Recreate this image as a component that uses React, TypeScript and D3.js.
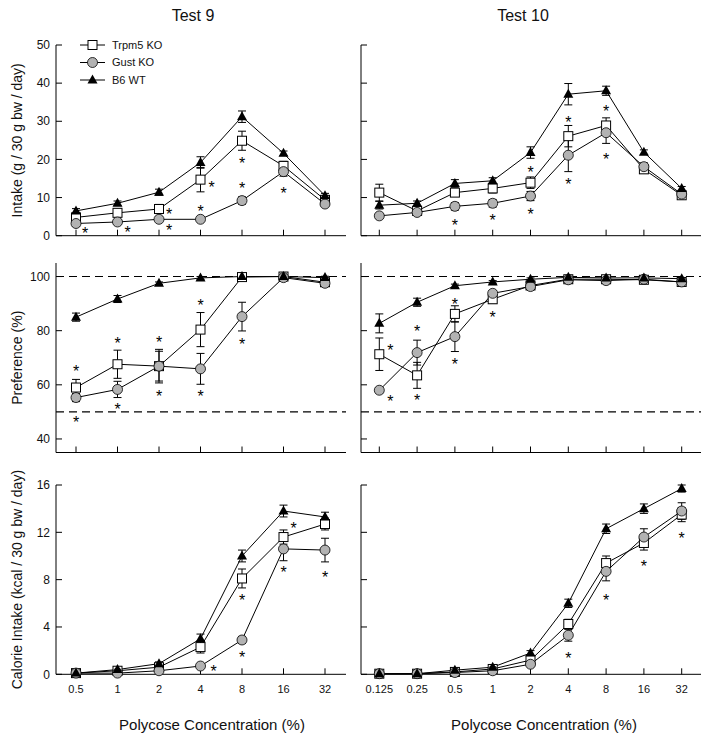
import * as d3 from 'd3'

const W = 711
const H = 744
const FONT = '"Liberation Sans", Arial, sans-serif'

// concentrations (%)
const CONC_9 = [0.5, 1, 2, 4, 8, 16, 32]
const CONC_10 = [0.125, 0.25, 0.5, 1, 2, 4, 8, 16, 32]

const SERIES_NAMES = ['Trpm5 KO', 'Gust KO', 'B6 WT']

// Test 9 intake (g / 30 g bw / day)
const INTAKE9_TRPM5 = [4.8, 6.0, 7.0, 14.7, 24.9, 18.3, 9.4]
const INTAKE9_TRPM5_ERR = [0.8, 1.0, 1.2, 3.2, 2.5, 1.2, 0.8]
const INTAKE9_GUST = [3.2, 3.6, 4.3, 4.3, 9.2, 16.8, 8.3]
const INTAKE9_GUST_ERR = [0.8, 0.6, 0.6, 0.5, 1.0, 1.2, 0.6]
const INTAKE9_B6 = [6.5, 8.5, 11.4, 19.2, 31.2, 21.6, 10.5]
const INTAKE9_B6_ERR = [0.6, 0.6, 0.8, 1.5, 1.5, 0.6, 0.6]

// Test 10 intake
const INTAKE10_TRPM5 = [11.3, 6.5, 11.3, 12.4, 13.9, 26.1, 28.9, 17.4, 10.6]
const INTAKE10_TRPM5_ERR = [2.2, 0.8, 1.0, 1.2, 1.5, 2.8, 2.0, 1.0, 0.6]
const INTAKE10_GUST = [5.2, 6.1, 7.7, 8.5, 10.4, 21.1, 27.0, 18.1, 10.9]
const INTAKE10_GUST_ERR = [0.6, 0.8, 1.0, 1.0, 1.2, 4.3, 2.8, 1.0, 0.5]
const INTAKE10_B6 = [8.0, 8.5, 13.7, 14.4, 21.8, 37.1, 38.0, 21.9, 12.4]
const INTAKE10_B6_ERR = [1.0, 0.6, 1.0, 0.8, 1.5, 2.8, 1.2, 0.6, 0.5]

// Test 9 preference (%)
const PREF9_TRPM5 = [59.0, 67.6, 66.9, 80.4, 99.8, 100, 97.9]
const PREF9_TRPM5_ERR = [3.0, 5.2, 6.2, 6.3, 0.5, 0.5, 1.0]
const PREF9_GUST = [55.3, 58.3, 66.9, 65.9, 85.2, 99.6, 97.5]
const PREF9_GUST_ERR = [1.5, 3.0, 5.5, 5.7, 5.3, 0.5, 1.0]
const PREF9_B6 = [85.0, 91.7, 97.5, 99.5, 100, 100, 99.6]
const PREF9_B6_ERR = [1.5, 1.3, 0.5, 0.5, 0.3, 0.3, 0.5]

// Test 10 preference
const PREF10_TRPM5 = [71.3, 63.5, 86.2, 91.6, 96.7, 99.0, 99.0, 98.8, 98.0]
const PREF10_TRPM5_ERR = [6.0, 4.8, 3.0, 1.5, 0.8, 0.5, 0.5, 0.5, 0.6]
const PREF10_GUST = [58.0, 71.9, 77.8, 93.8, 96.3, 98.8, 98.5, 99.0, 98.0]
const PREF10_GUST_ERR = [1.0, 4.6, 5.5, 1.0, 0.6, 0.5, 0.5, 0.5, 0.6]
const PREF10_B6 = [82.7, 90.5, 96.6, 98.0, 99.0, 99.7, 99.5, 99.5, 99.2]
const PREF10_B6_ERR = [3.5, 1.5, 0.6, 0.5, 0.5, 0.3, 0.3, 0.3, 0.4]

// Test 9 calorie intake (kcal / 30 g bw / day)
const KCAL9_TRPM5 = [0.1, 0.3, 0.6, 2.3, 8.1, 11.6, 12.7]
const KCAL9_TRPM5_ERR = [0.05, 0.05, 0.1, 0.5, 0.8, 0.6, 0.5]
const KCAL9_GUST = [0.1, 0.1, 0.3, 0.7, 2.9, 10.6, 10.5]
const KCAL9_GUST_ERR = [0.05, 0.05, 0.05, 0.1, 0.3, 1.0, 1.0]
const KCAL9_B6 = [0.1, 0.4, 0.9, 3.0, 10.0, 13.8, 13.3]
const KCAL9_B6_ERR = [0.05, 0.1, 0.15, 0.4, 0.5, 0.5, 0.4]

// Test 10 calorie intake
const KCAL10_TRPM5 = [0.05, 0.05, 0.2, 0.45, 1.2, 4.25, 9.4, 11.1, 13.5]
const KCAL10_TRPM5_ERR = [0.05, 0.05, 0.1, 0.1, 0.2, 0.4, 0.6, 0.6, 0.6]
const KCAL10_GUST = [0.05, 0.05, 0.15, 0.3, 0.85, 3.3, 8.7, 11.6, 13.8]
const KCAL10_GUST_ERR = [0.05, 0.05, 0.05, 0.1, 0.2, 0.5, 0.8, 0.7, 0.7]
const KCAL10_B6 = [0.05, 0.05, 0.35, 0.6, 1.8, 6.0, 12.3, 14.0, 15.7]
const KCAL10_B6_ERR = [0.05, 0.05, 0.1, 0.1, 0.2, 0.35, 0.4, 0.4, 0.3]

// significance stars: [concentration, y value, pixel offset]
const STARS_INTAKE9 = [[0.5, 1.5, 9], [1, 1.8, 10], [2, 6.6, 10], [2, 2.2, 10], [4, 13.5, 11], [4, 7.2, 0], [8, 19.8, 0], [8, 13.3, 0], [16, 12, 0]]
const STARS_INTAKE10 = [[0.5, 3.7, 0], [1, 5, 0], [2, 17.4, 0], [2, 6.4, 0], [4, 30.6, 0], [4, 14.4, 0], [8, 33.5, 0], [8, 20.9, 0]]
const STARS_PREF9 = [[0.5, 66.1, 0], [0.5, 47.3, 0], [1, 76.6, 0], [1, 52.1, 0], [2, 76.9, 0], [2, 57, 0], [4, 90.6, 0], [4, 56.8, 0], [8, 76.3, 0]]
const STARS_PREF10 = [[0.125, 74.1, 11], [0.125, 55, 11], [0.25, 80.9, 0], [0.25, 55.6, 0], [0.5, 91.1, 0], [0.5, 68.9, 0], [1, 86.1, 0]]
const STARS_KCAL9 = [[4, 0.5, 13], [8, 6.5, 0], [8, 1.7, 0], [16, 8.9, 0], [16, 12.6, 10], [32, 8.5, 0]]
const STARS_KCAL10 = [[4, 1.6, 0], [8, 6.5, 0], [16, 9.4, 0], [32, 11.8, 0]]

const cols = [
  { title: 'Test 9', conc: CONC_9, range: [76, 325], axis: [56, 346], titleX: 193, labelX: 212, yLabels: true },
  { title: 'Test 10', conc: CONC_10, range: [379.3, 681.7], axis: [361, 701], titleX: 523, labelX: 544, yLabels: false },
]

const rows = [
  { label: 'Intake (g / 30 g bw / day)', domain: [0, 50], range: [235.7, 45], ticks: [0, 10, 20, 30, 40, 50], dashed: [] },
  { label: 'Preference (%)', domain: [35, 105], range: [452.5, 263], ticks: [40, 60, 80, 100], dashed: [50, 100] },
  { label: 'Calorie Intake (kcal / 30 g bw / day)', domain: [0, 16], range: [674.3, 485], ticks: [0, 4, 8, 12, 16], dashed: [] },
]

const panelData = [
  [
    { series: [[INTAKE9_TRPM5, INTAKE9_TRPM5_ERR], [INTAKE9_GUST, INTAKE9_GUST_ERR], [INTAKE9_B6, INTAKE9_B6_ERR]], stars: STARS_INTAKE9 },
    { series: [[INTAKE10_TRPM5, INTAKE10_TRPM5_ERR], [INTAKE10_GUST, INTAKE10_GUST_ERR], [INTAKE10_B6, INTAKE10_B6_ERR]], stars: STARS_INTAKE10 },
  ],
  [
    { series: [[PREF9_TRPM5, PREF9_TRPM5_ERR], [PREF9_GUST, PREF9_GUST_ERR], [PREF9_B6, PREF9_B6_ERR]], stars: STARS_PREF9 },
    { series: [[PREF10_TRPM5, PREF10_TRPM5_ERR], [PREF10_GUST, PREF10_GUST_ERR], [PREF10_B6, PREF10_B6_ERR]], stars: STARS_PREF10 },
  ],
  [
    { series: [[KCAL9_TRPM5, KCAL9_TRPM5_ERR], [KCAL9_GUST, KCAL9_GUST_ERR], [KCAL9_B6, KCAL9_B6_ERR]], stars: STARS_KCAL9 },
    { series: [[KCAL10_TRPM5, KCAL10_TRPM5_ERR], [KCAL10_GUST, KCAL10_GUST_ERR], [KCAL10_B6, KCAL10_B6_ERR]], stars: STARS_KCAL10 },
  ],
]

const SHAPES = ['square', 'circle', 'triangle']

function Marker({ shape, x, y }: { shape: string; x: number; y: number }) {
  if (shape === 'square') {
    return <rect x={x - 4.5} y={y - 4.5} width={9} height={9} fill="#fff" stroke="#000" strokeWidth={1} />
  }
  if (shape === 'circle') {
    return <circle cx={x} cy={y} r={5} fill="#b2b2b2" stroke="#000" strokeWidth={0.8} />
  }
  return <path d={`M${x},${y - 5.5}L${x + 5},${y + 3.5}L${x - 5},${y + 3.5}Z`} fill="#000" />
}

function Panel({ col, row, data }: any) {
  const x = d3.scaleLog().base(2).domain([col.conc[0], col.conc[col.conc.length - 1]]).range(col.range)
  const y = d3.scaleLinear().domain(row.domain).range(row.range)
  const line = d3.line<number>().x((_, i) => x(col.conc[i])).y((d) => y(d))
  const [x0, x1] = col.axis
  const yBottom = row.range[0]
  const yTop = row.range[1]
  return (
    <g>
      {row.dashed.map((v: number) => (
        <line key={v} x1={x0} x2={x1} y1={y(v)} y2={y(v)} stroke="#000" strokeWidth={1.1} strokeDasharray="8,5" />
      ))}
      <line x1={x0} x2={x0} y1={yTop} y2={yBottom} stroke="#000" strokeWidth={1} />
      <line x1={x0} x2={x1} y1={yBottom} y2={yBottom} stroke="#000" strokeWidth={1} />
      {row.ticks.map((t: number) => (
        <g key={t}>
          <line x1={x0} x2={x0 + 6} y1={y(t)} y2={y(t)} stroke="#000" />
          {col.yLabels && (
            <text x={x0 - 6} y={y(t)} dy="0.35em" textAnchor="end" fontSize={12} fontFamily={FONT} fill="#111">
              {t}
            </text>
          )}
        </g>
      ))}
      {col.conc.map((c: number) => (
        <line key={c} x1={x(c)} x2={x(c)} y1={yBottom} y2={yBottom - 6} stroke="#000" />
      ))}
      {data.series.map(([vals, errs]: number[][], si: number) => (
        <g key={si}>
          {vals.map((v, i) => {
            const cx = x(col.conc[i])
            const lo = y(v - errs[i])
            const hi = y(v + errs[i])
            return (
              <g key={i} stroke="#000" strokeWidth={1}>
                <line x1={cx} x2={cx} y1={lo} y2={hi} />
                <line x1={cx - 4} x2={cx + 4} y1={lo} y2={lo} />
                <line x1={cx - 4} x2={cx + 4} y1={hi} y2={hi} />
              </g>
            )
          })}
          <path d={line(vals) || ''} fill="none" stroke="#000" strokeWidth={1} />
        </g>
      ))}
      {data.series.map(([vals]: number[][], si: number) => (
        <g key={si}>
          {vals.map((v, i) => (
            <Marker key={i} shape={SHAPES[si]} x={x(col.conc[i])} y={y(v)} />
          ))}
        </g>
      ))}
      {data.stars.map(([c, v, dx]: number[], i: number) => (
        <text key={i} x={x(c) + dx} y={y(v) + 9} textAnchor="middle" fontSize={16} fontFamily={FONT} fill="#000">
          *
        </text>
      ))}
    </g>
  )
}

export default function App() {
  const bottomRow = rows[2]
  return (
    <svg width={W} height={H} style={{ position: 'absolute', left: 0, top: 0, background: '#fff' }} fontFamily={FONT}>
      <rect width={W} height={H} fill="#fff" />
      {cols.map((col) => (
        <text key={col.title} x={col.titleX} y={21} textAnchor="middle" fontSize={16} fill="#111">
          {col.title}
        </text>
      ))}
      {rows.map((row, ri) =>
        cols.map((col, ci) => <Panel key={`${ri}-${ci}`} col={col} row={row} data={panelData[ri][ci]} />)
      )}
      {rows.map((row) => {
        const cy = (row.range[0] + row.range[1]) / 2
        return (
          <text key={row.label} transform={`translate(17,${cy}) rotate(-90)`} dy="0.35em" textAnchor="middle" fontSize={14} fill="#111">
            {row.label}
          </text>
        )
      })}
      {cols.map((col) => {
        const x = d3.scaleLog().base(2).domain([col.conc[0], col.conc[col.conc.length - 1]]).range(col.range)
        return (
          <g key={col.title}>
            {col.conc.map((c) => (
              <text key={c} x={x(c)} y={bottomRow.range[0] + 19} textAnchor="middle" fontSize={11} fill="#111">
                {String(c)}
              </text>
            ))}
            <text x={col.labelX} y={730} textAnchor="middle" fontSize={15} fill="#111">
              Polycose Concentration (%)
            </text>
          </g>
        )
      })}
      {SERIES_NAMES.map((name, i) => {
        const ly = 45 + i * 17.5
        return (
          <g key={name}>
            <line x1={80} x2={105} y1={ly} y2={ly} stroke="#000" />
            <Marker shape={SHAPES[i]} x={92.5} y={ly} />
            <text x={112} y={ly} dy="0.35em" fontSize={11} fill="#111">
              {name}
            </text>
          </g>
        )
      })}
    </svg>
  )
}
